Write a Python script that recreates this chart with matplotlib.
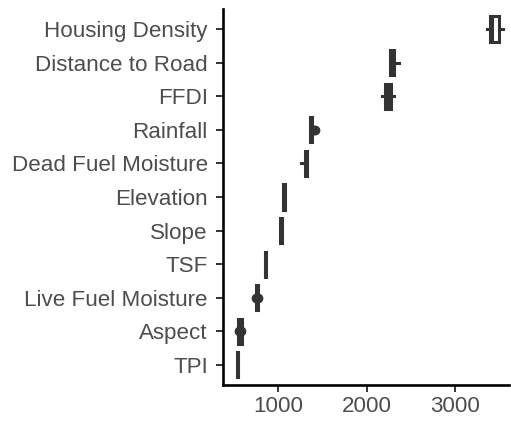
import matplotlib
matplotlib.use("Agg")
import matplotlib.pyplot as plt

# variables, bottom to top
variables = ["TPI", "Aspect", "Live Fuel Moisture", "TSF", "Slope", "Elevation",
             "Dead Fuel Moisture", "Rainfall", "FFDI", "Distance to Road",
             "Housing Density"]
q1 = [533, 548, 752, 844, 1019, 1053, 1297, 1353, 2202, 2259, 3402]
med = [538, 566, 762, 852, 1030, 1065, 1310, 1365, 2240, 2280, 3420]
q3 = [544, 585, 775, 861, 1042, 1081, 1325, 1376, 2276, 2307, 3496]
whislo = [533, 544, 748, 844, 1019, 1053, 1257, 1353, 2170, 2259, 3368]
whishi = [544, 588, 778, 861, 1042, 1081, 1325, 1376, 2306, 2366, 3538]
fliers = [[], [556, 576], [746, 766], [], [], [], [],
          [1408, 1420], [], [], []]

plt.rcParams["font.family"] = "Liberation Sans"

dark = "#333333"
fig = plt.figure(figsize=(5.11, 4.24), dpi=100)
ax = fig.add_axes([0.437, 0.092, 0.559, 0.887])

stats = []
for i, name in enumerate(variables):
    stats.append(dict(label=name, q1=q1[i], med=med[i], q3=q3[i],
                      whislo=whislo[i], whishi=whishi[i], fliers=fliers[i]))

lw = 2.2
ax.bxp(stats, positions=range(1, len(variables) + 1), vert=False, widths=0.75,
       showcaps=False, patch_artist=True,
       boxprops=dict(facecolor="white", edgecolor=dark, linewidth=lw),
       medianprops=dict(color=dark, linewidth=lw),
       whiskerprops=dict(color=dark, linewidth=lw),
       flierprops=dict(marker="o", markerfacecolor=dark, markeredgecolor=dark,
                       markersize=6))

ax.set_xlim(377, 3611)
ax.set_ylim(0.4, len(variables) + 0.6)
ax.set_xticks([1000, 2000, 3000])
ax.set_yticks(range(1, len(variables) + 1))
ax.set_yticklabels(variables)

for side in ("top", "right"):
    ax.spines[side].set_visible(False)
for side in ("left", "bottom"):
    ax.spines[side].set_linewidth(1.9)
    ax.spines[side].set_color("black")

ax.tick_params(axis="both", length=4.7, width=1.4, color=dark,
               labelsize=16.1, labelcolor="#4D4D4D")
ax.tick_params(axis="y", pad=6.5)
ax.tick_params(axis="x", pad=3.5)

fig.savefig("out.png", dpi=100)
